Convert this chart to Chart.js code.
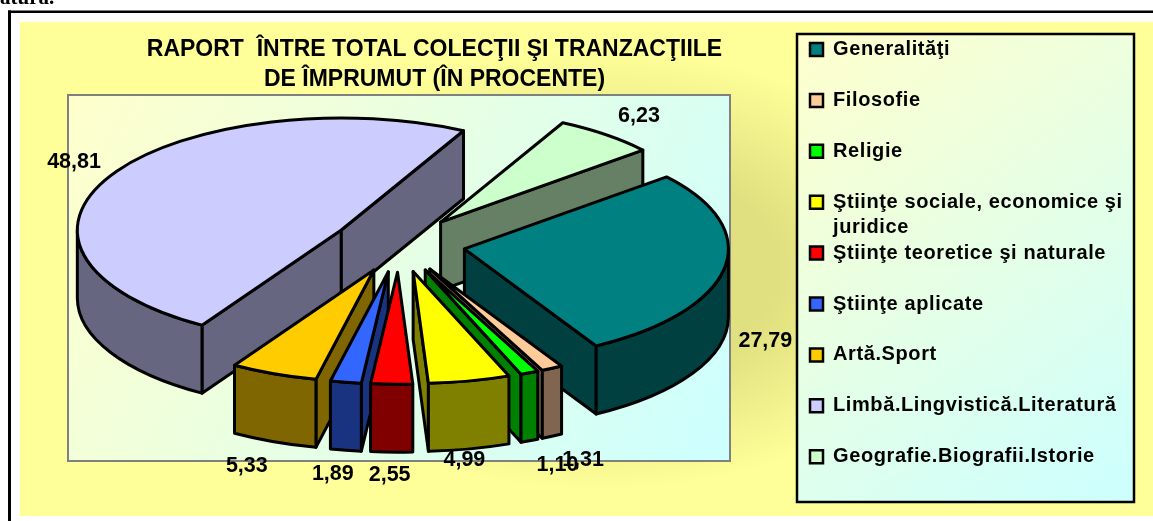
<!DOCTYPE html>
<html lang="ro">
<head>
<meta charset="utf-8">
<style>html,body{margin:0;padding:0;background:#fff;overflow:hidden}canvas{display:block}</style>
<script src="https://cdn.jsdelivr.net/npm/chart.js@4/dist/chart.umd.min.js"></script>
</head>
<body>
<div style="width:1153px;height:521px;position:relative"><canvas id="c" width="1153" height="521"></canvas></div>
<script>
const categories = ["Generalităţi","Filosofie","Religie","Ştiinţe sociale, economice şi","Ştiinţe teoretice şi naturale","Ştiinţe aplicate","Artă.Sport","Limbă.Lingvistică.Literatură","Geografie.Biografii.Istorie"];
const legendContinuation = {3:"juridice"};
const values = [27.79,1.31,1.10,4.99,2.55,1.89,5.33,48.81,6.23];
const topColors = ["#008080","#FFCC99","#00FF00","#FFFF00","#FF0000","#3366FF","#FFCC00","#CCCCFF","#CCFFCC"];
const sideColors = ["#004040","#806650","#008000","#808000","#800000","#1A3380","#806600","#666680","#668066"];
const titleLines = ["RAPORT  ÎNTRE TOTAL COLECŢII ŞI TRANZACŢIILE","DE ÎMPRUMUT (ÎN PROCENTE)"];
const labelShift = [[41,73],[31,92],[28,92],[-5,79],[-2,91],[-13,92],[-27,92],[-38,-12],[33,-19]];

const RADIUS = 264, TILT = 112/264, DEPTH = 68, EXPLODE = 66.4, FONT = "'Liberation Sans', Arial, sans-serif";
const LEGEND_SPACING = '0.6px';

const scene = {
  id:'scene3d',
  beforeDraw(chart){
    const {ctx,chartArea:a} = chart;
    ctx.save();
    ctx.fillStyle='#fff'; ctx.fillRect(0,0,1153,521);
    // outer yellow panel
    ctx.save();
    ctx.beginPath(); ctx.rect(20,22,1133,494); ctx.clip();
    ctx.fillStyle='#FFFF99'; ctx.fillRect(20,22,1133,494);
    ctx.translate(600,270); ctx.scale(1,220/360);
    const g=ctx.createRadialGradient(0,0,0,0,0,360);
    g.addColorStop(0,'#DFDF80'); g.addColorStop(.5,'#E0E080'); g.addColorStop(1,'#FFFF99');
    ctx.fillStyle=g; ctx.beginPath(); ctx.arc(0,0,360,0,Math.PI*2); ctx.fill();
    ctx.restore();
    // document frame and clipped text above it
    ctx.fillStyle='#000';
    ctx.fillRect(8,10.5,1145,2.5); ctx.fillRect(8,10.5,3,511);
    ctx.font="bold 21px 'Liberation Serif', serif"; ctx.textBaseline='alphabetic'; ctx.textAlign='left';
    ctx.fillText('atură.',0,4);
    // plot area
    const p=ctx.createLinearGradient(a.left,a.top,a.right,a.bottom);
    p.addColorStop(0,'#FFFFCC'); p.addColorStop(1,'#CCFFFF');
    ctx.fillStyle=p; ctx.fillRect(a.left,a.top,a.right-a.left,a.bottom-a.top);
    ctx.strokeStyle='#808080'; ctx.lineWidth=2; ctx.strokeRect(a.left,a.top,a.right-a.left,a.bottom-a.top);
    // legend panel
    const lg=ctx.createLinearGradient(797,33,1134,502);
    lg.addColorStop(0,'#FFFFCC'); lg.addColorStop(1,'#CCFFFF');
    ctx.fillStyle=lg; ctx.fillRect(797,34,337,468);
    ctx.strokeStyle='#000'; ctx.lineWidth=2.5; ctx.strokeRect(797,34,337,468);
    ctx.restore();
  },
  afterLayout(chart){
    const l=chart.legend;
    if(!l._spaced){
      const d=l.draw;
      l.draw=function(){chart.ctx.letterSpacing=LEGEND_SPACING; d.apply(this,arguments); chart.ctx.letterSpacing='0px';};
      l._spaced=true;
    }
    l.update(340,520,{left:0,top:0,right:0,bottom:0});
    l.left=779.1; l.right=1134; l.top=8.6; l.bottom=521; l.width=355; l.height=512;
    const t=chart.titleBlock;
    t.left+=35.5; t.right+=35.5;
  },
  beforeDatasetDraw(chart,args){
    const {ctx}=chart, arcs=args.meta.data;
    const order=arcs.map((arc,i)=>i).sort((i,j)=>{
      const m=k=>Math.sin((arcs[k].startAngle+arcs[k].endAngle)/2);
      return m(i)-m(j);
    });
    ctx.save();
    ctx.strokeStyle='#000'; ctx.lineWidth=3; ctx.lineJoin='round';
    for(const i of order) drawSlice(ctx,arcs[i],i);
    ctx.restore();
    return false;
  },
  afterDatasetsDraw(chart){
    const {ctx}=chart, arcs=chart.getDatasetMeta(0).data;
    ctx.save();
    ctx.fillStyle='#000'; ctx.font='bold 21.5px '+FONT; ctx.textAlign='center'; ctx.textBaseline='middle';
    arcs.forEach((arc,i)=>{
      const m=(arc.startAngle+arc.endAngle)/2, c=topCenter(arc), r=arc.outerRadius+arc.options.offset;
      ctx.fillText(values[i].toFixed(2).replace('.',','), c.x+r*Math.cos(m)+labelShift[i][0], c.y+r*TILT*Math.sin(m)+labelShift[i][1]);
    });
    // second line of the wrapped legend entry
    const l=chart.legend, f=l.options.labels.font, pad=l.options.labels.padding;
    ctx.font=`bold ${f.size}px ${FONT}`; ctx.textAlign='left'; ctx.letterSpacing=LEGEND_SPACING;
    for(const k in legendContinuation){
      const y=l.top+pad+f.size/2+(f.size+pad)*k+25;
      ctx.fillText(legendContinuation[k],l.left+pad+l.options.labels.boxWidth+f.size/2,y);
    }
    ctx.letterSpacing='0px';
    ctx.restore();
  }
};
function topCenter(arc){return {x:arc.x,y:arc.y-DEPTH/2};}
function drawSlice(ctx,arc,i){
  const a0=arc.startAngle,a1=arc.endAngle,m=(a0+a1)/2,R=arc.outerRadius,e=arc.options.offset;
  const c=topCenter(arc);
  const x=c.x+e*Math.cos(m), y=c.y+e*TILT*Math.sin(m);
  const px=a=>x+R*Math.cos(a), py=a=>y+R*TILT*Math.sin(a);
  const wall=(a)=>{
    ctx.beginPath(); ctx.moveTo(x,y); ctx.lineTo(px(a),py(a)); ctx.lineTo(px(a),py(a)+DEPTH); ctx.lineTo(x,y+DEPTH); ctx.closePath();
    ctx.fillStyle=sideColors[i]; ctx.fill(); ctx.stroke();
  };
  if(-Math.cos(a0)>0) wall(a0);
  if(Math.cos(a1)>0) wall(a1);
  for(const turn of [-2*Math.PI,0,2*Math.PI]){
    const s=Math.max(a0,turn), t=Math.min(a1,turn+Math.PI);
    if(t>s){
      ctx.beginPath();
      ctx.ellipse(x,y,R,R*TILT,0,s,t);
      ctx.ellipse(x,y+DEPTH,R,R*TILT,0,t,s,true);
      ctx.closePath();
      ctx.fillStyle=sideColors[i]; ctx.fill(); ctx.stroke();
    }
  }
  ctx.beginPath(); ctx.moveTo(x,y); ctx.ellipse(x,y,R,R*TILT,0,a0,a1); ctx.closePath();
  ctx.fillStyle=topColors[i]; ctx.fill(); ctx.stroke();
}

new Chart(document.getElementById('c'),{
  type:'pie',
  data:{labels:categories,datasets:[{data:values,backgroundColor:topColors,borderColor:'#000',borderWidth:3,offset:EXPLODE}]},
  options:{
    responsive:false,animation:false,events:[],
    rotation:50,radius:RADIUS,
    layout:{padding:{left:68,right:423,top:30,bottom:60}},
    plugins:{
      title:{display:true,text:titleLines,color:'#000',padding:{top:5,bottom:0},font:{family:FONT,size:23,weight:'bold',lineHeight:30/23}},
      legend:{position:'chartArea',align:'start',labels:{
        color:'#000',boxWidth:13,boxHeight:13,padding:30.9,font:{family:FONT,size:20,weight:'bold'},
        generateLabels:()=>categories.map((t,i)=>({text:t,fillStyle:topColors[i],strokeStyle:'#000',lineWidth:2.5,index:i}))
      }},
      tooltip:{enabled:false}
    }
  },
  plugins:[scene]
});
</script>
</body>
</html>
